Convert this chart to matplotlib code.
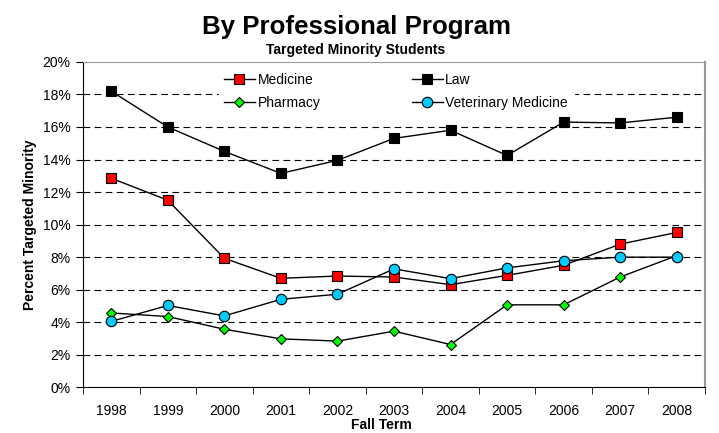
import matplotlib
matplotlib.use("Agg")
import matplotlib.pyplot as plt
import numpy as np

plt.rcParams['font.family'] = ['Liberation Sans', 'DejaVu Sans']

years = ["1998", "1999", "2000", "2001", "2002", "2003", "2004", "2005", "2006", "2007", "2008"]
medicine = [12.85, 11.5, 7.93, 6.7, 6.84, 6.78, 6.31, 6.88, 7.5, 8.8, 9.52]
law = [18.2, 16.0, 14.5, 13.15, 13.95, 15.3, 15.8, 14.25, 16.3, 16.25, 16.6]
pharmacy = [4.57, 4.35, 3.57, 2.98, 2.84, 3.45, 2.63, 5.07, 5.07, 6.78, 8.09]
vet_med = [4.05, 5.03, 4.39, 5.41, 5.72, 7.28, 6.68, 7.34, 7.78, 8.0, 8.0]

fig = plt.figure(figsize=(7.19, 4.33), dpi=100)
ax = fig.add_axes([0.1154, 0.1055, 0.8651, 0.7515])

x = np.arange(len(years))
h_med, = ax.plot(x, medicine, color="black", lw=1, marker="s", ms=7, mfc="#ff0000", mec="black", mew=0.8, label="Medicine", zorder=3)
h_law, = ax.plot(x, law, color="black", lw=1, marker="s", ms=7, mfc="black", mec="black", mew=0.8, label="Law", zorder=3)
h_pha, = ax.plot(x, pharmacy, color="black", lw=1, marker="D", ms=5, mfc="#00ff00", mec="black", mew=0.8, label="Pharmacy", zorder=3)
h_vet, = ax.plot(x, vet_med, color="black", lw=1, marker="o", ms=7.5, mfc="#00ccff", mec="black", mew=0.8, label="Veterinary Medicine", zorder=3)

ax.set_xlim(-0.5, len(years) - 0.5)
ax.set_ylim(0, 20)
ax.set_yticks(range(0, 21, 2))
ax.set_yticklabels([f"{v}%" for v in range(0, 21, 2)], fontsize=10)
ax.set_xticks(x)
ax.set_xticklabels(years, fontsize=10)
ax.set_xticks(np.arange(-0.5, len(years), 1), minor=True)
ax.tick_params(axis="x", which="major", length=0, pad=12)
ax.tick_params(axis="x", which="minor", length=5, direction="out")
ax.tick_params(axis="y", length=5, direction="out", pad=4)

for v in range(2, 20, 2):
    ax.axhline(v, color="black", lw=0.8, ls=(0, (6, 4)), zorder=1)

ax.spines["top"].set_color("#999999")
ax.spines["right"].set_color("#999999")
ax.spines["right"].set_linewidth(1.5)

# row-wise order: Medicine, Law / Pharmacy, Veterinary Medicine
handles = [h_med, h_pha, h_law, h_vet]
leg = ax.legend(handles=handles, labels=[h.get_label() for h in handles], ncol=2,
                loc="upper left", bbox_to_anchor=(0.218, 0.983), frameon=True,
                fontsize=10, handlelength=2.2, columnspacing=6.6, handletextpad=0.2,
                borderpad=0.4, labelspacing=0.67, borderaxespad=0)
leg.get_frame().set_edgecolor("white")
leg.get_frame().set_facecolor("white")
leg.get_frame().set_alpha(1)
leg.get_frame().set_boxstyle("square", pad=0)
leg.set_zorder(2)

ax.set_ylabel("Percent Targeted Minority", fontsize=10, fontweight="bold", labelpad=4)
fig.text(381 / 719, 0.002, "Fall Term", ha="center", va="bottom", fontsize=10, fontweight="bold")

fig.text(356 / 719, 1 - 34 / 433, "By Professional Program", ha="center", va="baseline", fontsize=18.6, fontweight="bold")
fig.text(356 / 719, 1 - 54.3 / 433, "Targeted Minority Students", ha="center", va="baseline", fontsize=10, fontweight="bold")

fig.savefig("out.png", dpi=100)
